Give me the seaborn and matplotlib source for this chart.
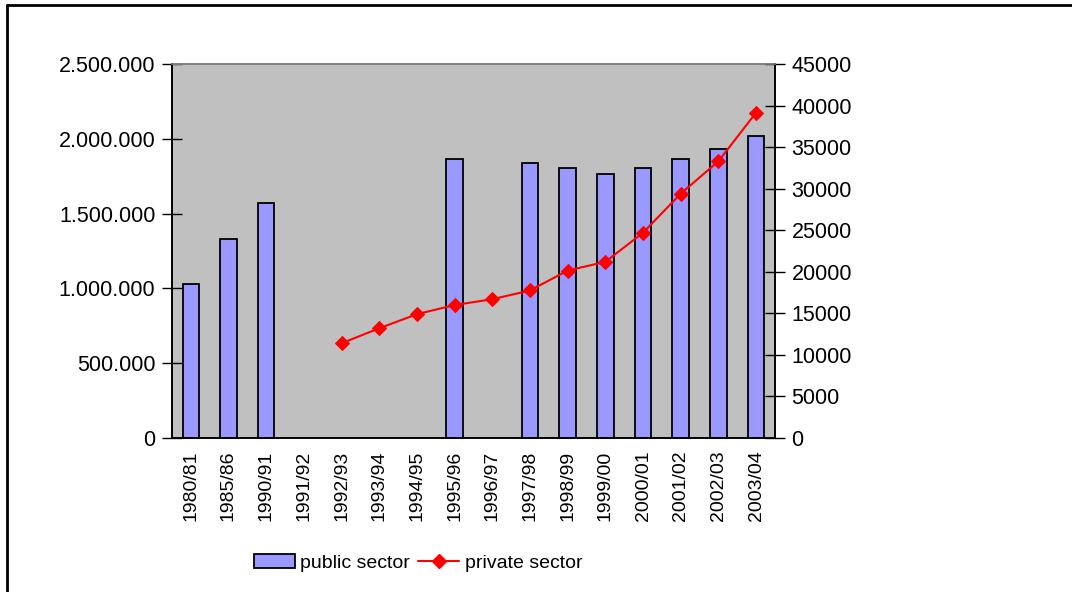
import numpy as np
import pandas as pd
import matplotlib
matplotlib.use("Agg")
import matplotlib.pyplot as plt
import seaborn as sns
from matplotlib.lines import Line2D
from matplotlib.ticker import FuncFormatter, MultipleLocator

# data
years = ['1980/81', '1985/86', '1990/91', '1991/92', '1992/93', '1993/94',
         '1994/95', '1995/96', '1996/97', '1997/98', '1998/99', '1999/00',
         '2000/01', '2001/02', '2002/03', '2003/04']
public_sector = [1030000, 1333000, 1574000, np.nan, np.nan, np.nan,
                 np.nan, 1863000, np.nan, 1839000, 1803000, 1765000,
                 1803000, 1863000, 1934000, 2017000]
private_sector = [np.nan, np.nan, np.nan, np.nan, 11400, 13200,
                  14900, 16000, 16700, 17750, 20150, 21200,
                  24700, 29400, 33300, 39150]

df = pd.DataFrame({'year': years, 'public': public_sector, 'private': private_sector})
df['pos'] = np.arange(len(years))

sns.set_style("white")
plt.rcParams['font.family'] = ['Liberation Sans', 'DejaVu Sans']
plt.rcParams['font.size'] = 14
plt.rcParams['text.color'] = 'black'
plt.rcParams['xtick.color'] = 'black'
plt.rcParams['ytick.color'] = 'black'

fig = plt.figure(figsize=(10.72, 5.92), dpi=100)
ax = fig.add_axes([0.1604, 0.2601, 0.5625, 0.6318])
ax.set_facecolor('#C0C0C0')

sns.barplot(data=df, x='year', y='public', order=years, ax=ax, color='#9999FF',
            saturation=1, width=0.44, edgecolor='black', linewidth=1.3,
            errorbar=None, zorder=2)
ax.set_ylim(0, 2500000)
ax.set_xlim(-0.5, len(years) - 0.5)
ax.yaxis.set_major_locator(MultipleLocator(500000))
ax.yaxis.set_major_formatter(FuncFormatter(lambda v, p: f"{int(v):,}".replace(",", ".")))

ax2 = ax.twinx()
sns.lineplot(data=df, x='pos', y='private', ax=ax2, color='red', marker='D',
             markersize=7, markeredgecolor='red', linewidth=1.5)
ax2.set_ylim(0, 45000)
ax2.yaxis.set_major_locator(MultipleLocator(5000))
ax2.set_xlim(-0.5, len(years) - 0.5)

# categorical ticks: labels at centres, tick marks at boundaries
ax.set_xticks(np.arange(len(years)))
ax.set_xticklabels(years, rotation=90)
ax.set_xticks(np.arange(len(years) + 1) - 0.5, minor=True)
ax.tick_params(axis='x', which='major', length=0, pad=9, labelsize=14)
ax.tick_params(axis='x', which='minor', length=10, direction='inout', width=1, color='black')
ax.tick_params(axis='y', length=14, direction='inout', width=1, color='black', labelsize=15.5, pad=5)
ax2.tick_params(axis='y', length=14, direction='inout', width=1, color='black', labelsize=15.5, pad=5)
ax2.tick_params(axis='x', length=0)

for a in (ax, ax2):
    a.set_xlabel('')
    a.set_ylabel('')
    for side in ('left', 'right', 'bottom'):
        a.spines[side].set_color('black')
        a.spines[side].set_linewidth(1.2)
    a.spines['top'].set_color('#808080')
    a.spines['top'].set_linewidth(1.2)

handles = [plt.Rectangle((0, 0), 1, 1, facecolor='#9999FF', edgecolor='black', linewidth=1.3),
           Line2D([], [], color='red', marker='D', markersize=7, linewidth=1.5)]
fig.legend(handles, ['public sector', 'private sector'], loc='center',
           bbox_to_anchor=(0.39, 0.049), ncol=2, frameon=False, fontsize=14,
           handlelength=2.1, handleheight=0.75, handletextpad=0.3, columnspacing=0.4)

# outer chart frame (top and left edges visible)
fig.add_artist(Line2D([0.0065, 0.0065], [0, 0.991], transform=fig.transFigure, color='black', lw=2))
fig.add_artist(Line2D([0.0065, 1], [0.991, 0.991], transform=fig.transFigure, color='black', lw=2))

fig.savefig('out.png', dpi=100)
